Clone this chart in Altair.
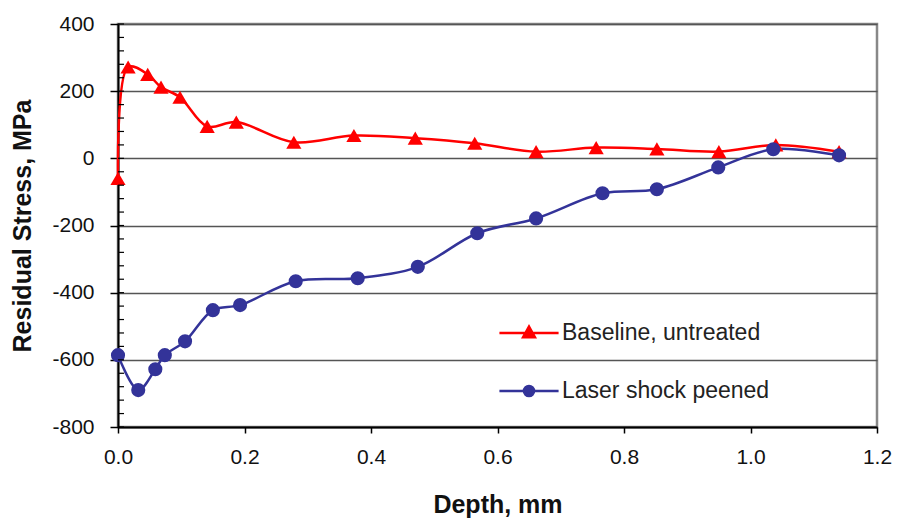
import altair as alt
import pandas as pd

# Baseline, untreated
base_depth = [0.0, 0.016, 0.047, 0.068, 0.098, 0.141, 0.187, 0.278, 0.373, 0.470, 0.564, 0.661, 0.756, 0.852, 0.950, 1.040, 1.140]
base_stress = [-60, 272, 250, 212, 182, 95, 108, 48, 68, 60, 45, 20, 32, 28, 20, 40, 20]

# Laser shock peened
lsp_depth = [0.0, 0.032, 0.059, 0.074, 0.106, 0.150, 0.193, 0.281, 0.379, 0.474, 0.568, 0.661, 0.766, 0.852, 0.949, 1.036, 1.140]
lsp_stress = [-586, -690, -628, -586, -545, -452, -437, -366, -357, -323, -223, -179, -104, -92, -27, 27, 9]

series_names = ["Baseline, untreated", "Laser shock peened"]
series_colors = ["#FF0000", "#333399"]
legend_shapes = [
    "M-1,0H1M0,-0.22L0.2,0.14H-0.2Z",
    "M-1,0H1M0.17,0A0.17,0.17,0,1,1,-0.17,0A0.17,0.17,0,1,1,0.17,0Z",
]

base_df = pd.DataFrame({"depth": base_depth, "stress": base_stress, "series": series_names[0]})
lsp_df = pd.DataFrame({"depth": lsp_depth, "stress": lsp_stress, "series": series_names[1]})
all_df = pd.concat([base_df, lsp_df], ignore_index=True)

x_ticks = [0.0, 0.2, 0.4, 0.6, 0.8, 1.0, 1.2]
y_ticks = [400, 200, 0, -200, -400, -600, -800]
y_minor = list(range(-800, 401, 40))

xscale = alt.Scale(domain=[0, 1.2], nice=False, zero=False)
yscale = alt.Scale(domain=[-800, 400], nice=False, zero=False)

x_enc = alt.X("depth:Q", scale=xscale, title="Depth, mm",
              axis=alt.Axis(values=x_ticks, format=".1f", grid=False, tickSize=6,
                            labelPadding=13, titlePadding=25, labelOverlap=False, labelFlush=False))
y_enc = alt.Y("stress:Q", scale=yscale, title="Residual Stress, MPa",
              axis=alt.Axis(values=y_ticks, grid=True, labelExpr="toString(datum.value)", tickSize=8,
                            labelOverlap=False, labelFlush=False, labelPadding=16, titlePadding=16))

def line_layer(df, color):
    return alt.Chart(df).mark_line(color=color, strokeWidth=2.5, interpolate="catmull-rom").encode(
        x=x_enc, y=y_enc)

minor = alt.Chart(pd.DataFrame({"stress": y_minor})).mark_tick(
    color="#000", thickness=1.2, size=6, opacity=1).encode(
    y=alt.Y("stress:Q", scale=yscale), x=alt.value(3))

red_line = line_layer(base_df, series_colors[0])
blue_line = line_layer(lsp_df, series_colors[1])

red_pts = alt.Chart(base_df).mark_point(shape="triangle-up", filled=True, opacity=1,
                                        color=series_colors[0], size=230).encode(x="depth:Q", y="stress:Q")
blue_pts = alt.Chart(lsp_df).mark_point(shape="circle", filled=True, opacity=1,
                                        color=series_colors[1], size=200).encode(x="depth:Q", y="stress:Q")

leg_scale_dom = series_names
legend = alt.Legend(title=None, orient="none", legendX=380, legendY=278,
                    symbolSize=3500, symbolStrokeWidth=2.5, rowPadding=15, labelOffset=2,
                    labelFontSize=23, labelFont="Liberation Sans", labelColor="#222",
                    symbolOpacity=1, labelLimit=400)
hidden = alt.Chart(all_df).mark_point(opacity=0, filled=True).encode(
    x="depth:Q", y="stress:Q",
    fill=alt.Fill("series:N", scale=alt.Scale(domain=leg_scale_dom, range=series_colors), legend=legend),
    stroke=alt.Stroke("series:N", scale=alt.Scale(domain=leg_scale_dom, range=series_colors), legend=legend),
    shape=alt.Shape("series:N", scale=alt.Scale(domain=leg_scale_dom, range=legend_shapes), legend=legend),
)

chart = alt.layer(red_line, blue_line, red_pts, blue_pts, hidden, minor).properties(
    width=759, height=403,
    autosize=alt.AutoSizeParams(type="none"),
    padding={"left": 118, "top": 24, "right": 20, "bottom": 91},
).configure_view(stroke="#888888", strokeWidth=2.5).configure_axis(
    labelFont="Liberation Sans", labelFontSize=21, labelColor="#111",
    titleFont="Liberation Sans", titleFontSize=25, titleFontWeight="bold", titleColor="#111",
    domainColor="#000", domainWidth=2, tickColor="#000", tickWidth=1.5,
    gridColor="#555", gridWidth=1.5, gridOpacity=1,
)

chart.save("out.html", embed_options={"renderer": "svg", "actions": False})
